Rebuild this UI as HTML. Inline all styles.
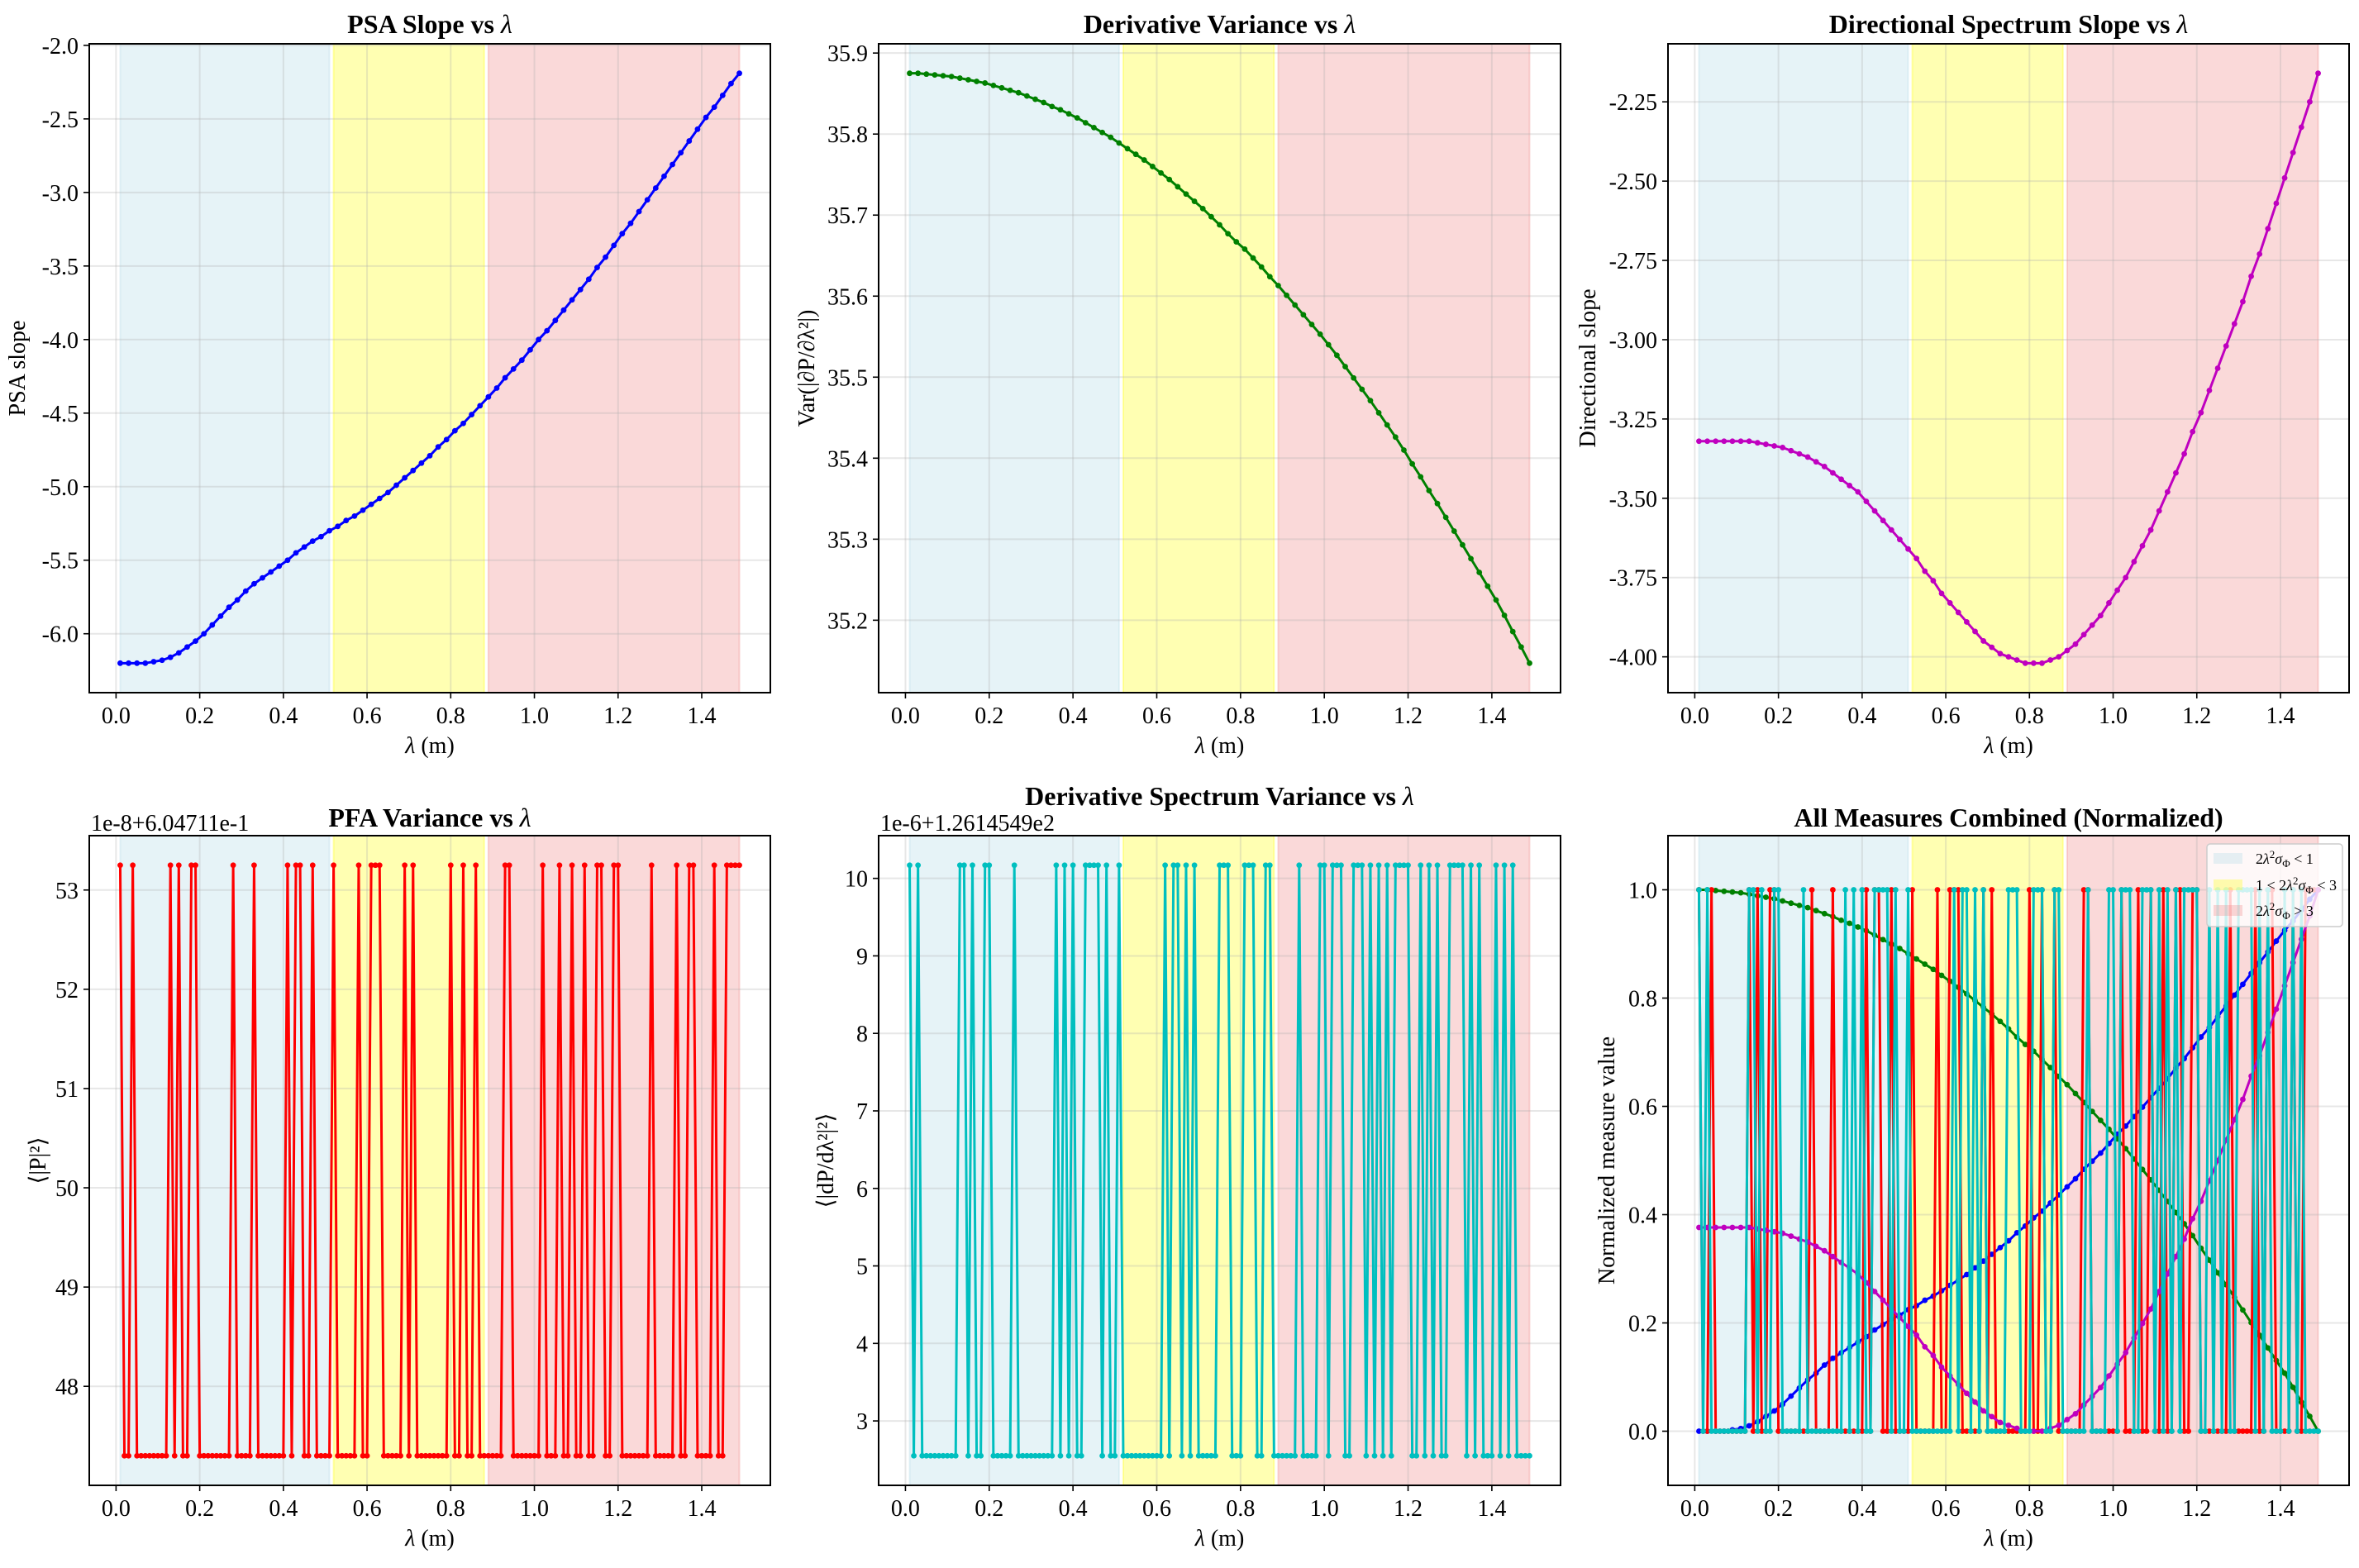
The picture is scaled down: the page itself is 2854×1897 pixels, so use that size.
<!DOCTYPE html>
<html><head><meta charset="utf-8"><style>
html,body{margin:0;padding:0;background:#fff}
svg text{font-family:"Liberation Serif","DejaVu Serif",serif;fill:#000}
</style></head><body>
<svg id="fig" xmlns="http://www.w3.org/2000/svg" width="2854" height="1892" viewBox="0 0 2854 1892"></svg>
<script>
// ---------- data ----------
const lamSmooth = [0.01,0.03,0.05,0.07,0.09,0.11,0.13,0.15,0.17,0.19,0.21,0.23,0.25,0.27,0.29,0.31,0.33,0.35,0.37,0.39,0.41,0.43,0.45,0.47,0.49,0.51,0.53,0.55,0.57,0.59,0.61,0.63,0.65,0.67,0.69,0.71,0.73,0.75,0.77,0.79,0.81,0.83,0.85,0.87,0.89,0.91,0.93,0.95,0.97,0.99,1.01,1.03,1.05,1.07,1.09,1.11,1.13,1.15,1.17,1.19,1.21,1.23,1.25,1.27,1.29,1.31,1.33,1.35,1.37,1.39,1.41,1.43,1.45,1.47,1.49];
const psaSlope = [-6.20,-6.20,-6.20,-6.20,-6.19,-6.18,-6.16,-6.13,-6.09,-6.05,-6.00,-5.94,-5.88,-5.82,-5.77,-5.71,-5.66,-5.62,-5.58,-5.54,-5.50,-5.45,-5.41,-5.37,-5.34,-5.30,-5.27,-5.23,-5.20,-5.16,-5.12,-5.08,-5.04,-4.99,-4.94,-4.89,-4.84,-4.79,-4.73,-4.68,-4.62,-4.57,-4.51,-4.45,-4.39,-4.33,-4.26,-4.20,-4.14,-4.07,-4.00,-3.94,-3.87,-3.80,-3.73,-3.66,-3.59,-3.51,-3.44,-3.36,-3.28,-3.21,-3.13,-3.05,-2.97,-2.89,-2.81,-2.73,-2.65,-2.57,-2.49,-2.42,-2.34,-2.26,-2.19];
const derivVar = [35.875,35.875,35.874,35.873,35.872,35.871,35.869,35.867,35.865,35.863,35.860,35.857,35.854,35.851,35.847,35.843,35.839,35.834,35.830,35.825,35.820,35.814,35.808,35.802,35.796,35.789,35.782,35.775,35.768,35.760,35.752,35.744,35.735,35.726,35.717,35.708,35.698,35.688,35.677,35.667,35.658,35.647,35.636,35.624,35.613,35.601,35.589,35.577,35.565,35.553,35.540,35.527,35.513,35.499,35.485,35.471,35.456,35.441,35.426,35.410,35.393,35.377,35.360,35.344,35.327,35.310,35.293,35.276,35.259,35.242,35.225,35.206,35.186,35.167,35.147];
const dirSlope = [-3.32,-3.32,-3.32,-3.32,-3.32,-3.32,-3.32,-3.325,-3.33,-3.335,-3.34,-3.35,-3.36,-3.37,-3.385,-3.40,-3.42,-3.44,-3.46,-3.48,-3.51,-3.54,-3.57,-3.60,-3.63,-3.66,-3.69,-3.73,-3.76,-3.80,-3.83,-3.86,-3.89,-3.92,-3.95,-3.97,-3.99,-4.00,-4.01,-4.02,-4.02,-4.02,-4.01,-4.00,-3.98,-3.96,-3.93,-3.90,-3.87,-3.83,-3.79,-3.75,-3.70,-3.65,-3.60,-3.54,-3.48,-3.42,-3.36,-3.29,-3.23,-3.16,-3.09,-3.02,-2.95,-2.88,-2.80,-2.73,-2.65,-2.57,-2.49,-2.41,-2.33,-2.25,-2.16];
const lamGridStart = 1, lamGridEnd = 149;
const pfaHighAt = [1,4,13,15,18,19,28,33,41,43,44,47,52,58,61,62,63,69,71,80,83,86,93,94,102,106,109,112,115,116,119,120,128,134,137,138,143,146,147,148,149];
const pfaLevels = [47.3, 53.25];
const dsvHighAt = [1,3,13,14,16,19,20,26,36,38,40,43,44,45,46,48,51,62,64,65,67,69,75,76,77,81,82,83,86,87,94,99,100,102,103,104,107,108,109,111,113,115,117,118,119,120,123,125,127,130,131,132,133,135,137,141,143,145];
const dsvLevels = [2.55, 10.17];
const regimeStart = [0.01, 0.52, 0.89];
const regimeEnd = [0.51, 0.88, 1.49];
const xTicks = [0,0.2,0.4,0.6,0.8,1.0,1.2,1.4];
const yTicks1 = [-6.0,-5.5,-5.0,-4.5,-4.0,-3.5,-3.0,-2.5,-2.0];
const yTicks2 = [35.2,35.3,35.4,35.5,35.6,35.7,35.8,35.9];
const yTicks3 = [-4.0,-3.75,-3.5,-3.25,-3.0,-2.75,-2.5,-2.25];
const yTicks4 = [48,49,50,51,52,53];
const yTicks5 = [3,4,5,6,7,8,9,10];
const yTicks6 = [0,0.2,0.4,0.6,0.8,1.0];

// ---------- helpers ----------
const NS='http://www.w3.org/2000/svg';
const svg=document.getElementById('fig');
function mk(tag,attrs,parent){const e=document.createElementNS(NS,tag);for(const k in attrs)e.setAttribute(k,attrs[k]);(parent||svg).appendChild(e);return e;}
function txt(s,attrs,parent){const e=mk('text',attrs,parent);e.textContent=s;return e;}
function lamGrid(){const a=[];for(let i=lamGridStart;i<=lamGridEnd;i++)a.push(i/100);return a;}
function binSeries(highAt,levels){const a=[];for(let i=lamGridStart;i<=lamGridEnd;i++)a.push(highAt.includes(i)?levels[1]:levels[0]);return a;}
function margins(arr){const mn=Math.min(...arr),mx=Math.max(...arr),d=(mx-mn)*0.05;return [mn-d,mx+d];}
function norm(arr){const mn=Math.min(...arr),mx=Math.max(...arr);return arr.map(v=>(v-mn)/(mx-mn));}
const XMIN=0.01-0.074, XMAX=1.49+0.074;
const FS=28;

function panel(p){
  const g=mk('g',{});
  
  
  const sx=v=>p.L+(v-XMIN)/(XMAX-XMIN)*(p.R-p.L);
  const sy=v=>p.B-(v-p.ymin)/(p.ymax-p.ymin)*(p.B-p.T);
  const spanCols=['#add8e6','#ffff00','#f08080'];
  regimeStart.forEach((s,i)=>{
    const r=mk('rect',{x:sx(s),y:p.T,width:sx(regimeEnd[i])-sx(s),height:p.B-p.T,fill:spanCols[i],'fill-opacity':0.3,stroke:spanCols[i],'stroke-opacity':0.3,'stroke-width':2},g);
    
    
  });
  xTicks.forEach(t=>{const l=mk('line',{x1:sx(t),x2:sx(t),y1:p.T,y2:p.B,stroke:'#b0b0b0','stroke-opacity':0.3,'stroke-width':2},g);
    });
  p.yt.forEach(t=>{const l=mk('line',{x1:p.L,x2:p.R,y1:sy(t),y2:sy(t),stroke:'#b0b0b0','stroke-opacity':0.3,'stroke-width':2},g);
    });
  p.series.forEach(s=>{
    const sg=mk('g',{},g);
    
    
    const pts=s.x.map((xv,i)=>sx(xv).toFixed(2)+','+sy(s.y[i]).toFixed(2)).join(' ');
    mk('polyline',{points:pts,fill:'none',stroke:s.c,'stroke-width':3,'stroke-linejoin':'round'},sg);
    s.x.forEach((xv,i)=>{const c=mk('circle',{cx:sx(xv),cy:sy(s.y[i]),r:3.4,fill:s.c},sg);
      });
  });
  const sp=mk('rect',{x:p.L,y:p.T,width:p.R-p.L,height:p.B-p.T,fill:'none',stroke:'#000','stroke-width':2},g);
  
  xTicks.forEach(t=>{mk('line',{x1:sx(t),x2:sx(t),y1:p.B,y2:p.B+7,stroke:'#000','stroke-width':1.6},g);
    const tl=txt(t.toFixed(1),{x:sx(t),y:p.B+37,'font-size':FS,'text-anchor':'middle'},g);
    });
  p.yt.forEach(t=>{mk('line',{x1:p.L-7,x2:p.L,y1:sy(t),y2:sy(t),stroke:'#000','stroke-width':1.6},g);
    const tl=txt(t.toFixed(p.yd),{x:p.L-13,y:sy(t)+10,'font-size':FS,'text-anchor':'end'},g);
    });
  const xl=mk('text',{x:(p.L+p.R)/2,y:p.B+73,'font-size':FS,'text-anchor':'middle'},g);
  xl.innerHTML='<tspan font-style="italic">λ</tspan> (m)';
  
  const yl=txt(p.ylabel,{x:0,y:0,'font-size':FS,'text-anchor':'middle',transform:`translate(${p.ylx},${(p.T+p.B)/2}) rotate(-90)`},g);
  
  const tt=mk('text',{x:(p.L+p.R)/2,y:p.ty,'font-size':32,'font-weight':'bold','text-anchor':'middle'},g);
  tt.innerHTML=p.title;
  
  if(p.offset){const o=txt(p.offset,{x:p.L+2,y:p.T-6,'font-size':FS},g);
    }
  return {g,sx,sy};
}

const grid = lamGrid();
const pfa = binSeries(pfaHighAt,pfaLevels);
const dsv = binSeries(dsvHighAt,dsvLevels);
const T1=53,B1=838,T2=1011,B2=1797;
const cols=[[108,932],[1063,1888],[2018,2842]];
const vs=' vs <tspan font-style="italic" font-weight="normal">λ</tspan>';

let r;
r=margins(psaSlope);
panel({name:'psa-slope-panel',L:cols[0][0],R:cols[0][1],T:T1,B:B1,ymin:r[0],ymax:r[1],yt:yTicks1,yd:1,ylabel:'PSA slope',ylx:30,ty:40,title:'PSA Slope'+vs,
  series:[{name:'psa-slope-line',x:lamSmooth,y:psaSlope,c:'#0000ff'}]});
r=margins(derivVar);
panel({name:'derivative-variance-panel',L:cols[1][0],R:cols[1][1],T:T1,B:B1,ymin:r[0],ymax:r[1],yt:yTicks2,yd:1,ylabel:'Var(|∂P/∂λ²|)',ylx:985,ty:40,title:'Derivative Variance'+vs,
  series:[{name:'derivative-variance-line',x:lamSmooth,y:derivVar,c:'#008000'}]});
r=margins(dirSlope);
panel({name:'directional-slope-panel',L:cols[2][0],R:cols[2][1],T:T1,B:B1,ymin:r[0],ymax:r[1],yt:yTicks3,yd:2,ylabel:'Directional slope',ylx:1930,ty:40,title:'Directional Spectrum Slope'+vs,
  series:[{name:'directional-slope-line',x:lamSmooth,y:dirSlope,c:'#bf00bf'}]});
r=margins(pfa);
panel({name:'pfa-variance-panel',L:cols[0][0],R:cols[0][1],T:T2,B:B2,ymin:r[0],ymax:r[1],yt:yTicks4,yd:0,ylabel:'⟨|P|²⟩',ylx:55,ty:1000,title:'PFA Variance'+vs,offset:'1e-8+6.04711e-1',
  series:[{name:'pfa-variance-line',x:grid,y:pfa,c:'#ff0000'}]});
r=margins(dsv);
panel({name:'derivative-spectrum-variance-panel',L:cols[1][0],R:cols[1][1],T:T2,B:B2,ymin:r[0],ymax:r[1],yt:yTicks5,yd:0,ylabel:'⟨|dP/dλ²|²⟩',ylx:1008,ty:974,title:'Derivative Spectrum Variance'+vs,offset:'1e-6+1.2614549e2',
  series:[{name:'derivative-spectrum-variance-line',x:grid,y:dsv,c:'#00bfbf'}]});
panel({name:'combined-normalized-panel',L:cols[2][0],R:cols[2][1],T:T2,B:B2,ymin:-0.1,ymax:1.1,yt:yTicks6,yd:1,ylabel:'Normalized measure value',ylx:1953,ty:1000,title:'All Measures Combined (Normalized)',
  series:[
    {name:'psa-normalized-line',x:lamSmooth,y:norm(psaSlope),c:'#0000ff'},
    {name:'derivative-variance-normalized-line',x:lamSmooth,y:norm(derivVar),c:'#008000'},
    {name:'pfa-normalized-line',x:grid,y:norm(pfa),c:'#ff0000'},
    {name:'directional-normalized-line',x:lamSmooth,y:norm(dirSlope),c:'#bf00bf'},
    {name:'derivative-spectrum-normalized-line',x:grid,y:norm(dsv),c:'#00bfbf'}]});

const lg=mk('g',{});


mk('rect',{x:2670,y:1021,width:164,height:100,rx:4,fill:'#fff','fill-opacity':0.8,stroke:'#cccccc','stroke-width':1.5},lg);
const legCols=['#add8e6','#ffff00','#f08080'];
const legText=[
 '2<tspan font-style="italic">λ</tspan><tspan dy="-7" font-size="13">2</tspan><tspan dy="7" font-style="italic">σ</tspan><tspan dy="4" font-size="13">Φ</tspan><tspan dy="-4"> &lt; 1</tspan>',
 '1 &lt; 2<tspan font-style="italic">λ</tspan><tspan dy="-7" font-size="13">2</tspan><tspan dy="7" font-style="italic">σ</tspan><tspan dy="4" font-size="13">Φ</tspan><tspan dy="-4"> &lt; 3</tspan>',
 '2<tspan font-style="italic">λ</tspan><tspan dy="-7" font-size="13">2</tspan><tspan dy="7" font-style="italic">σ</tspan><tspan dy="4" font-size="13">Φ</tspan><tspan dy="-4"> &gt; 3</tspan>'];
[1039,1071,1102].forEach((yy,i)=>{
  const e=mk('g',{},lg);
  
  
  mk('rect',{x:2678,y:yy-7,width:35,height:13,fill:legCols[i],'fill-opacity':0.3},e);
  const t=mk('text',{x:2729,y:yy+6,'font-size':18},e);
  t.innerHTML=legText[i];
});
</script>
</body></html>
